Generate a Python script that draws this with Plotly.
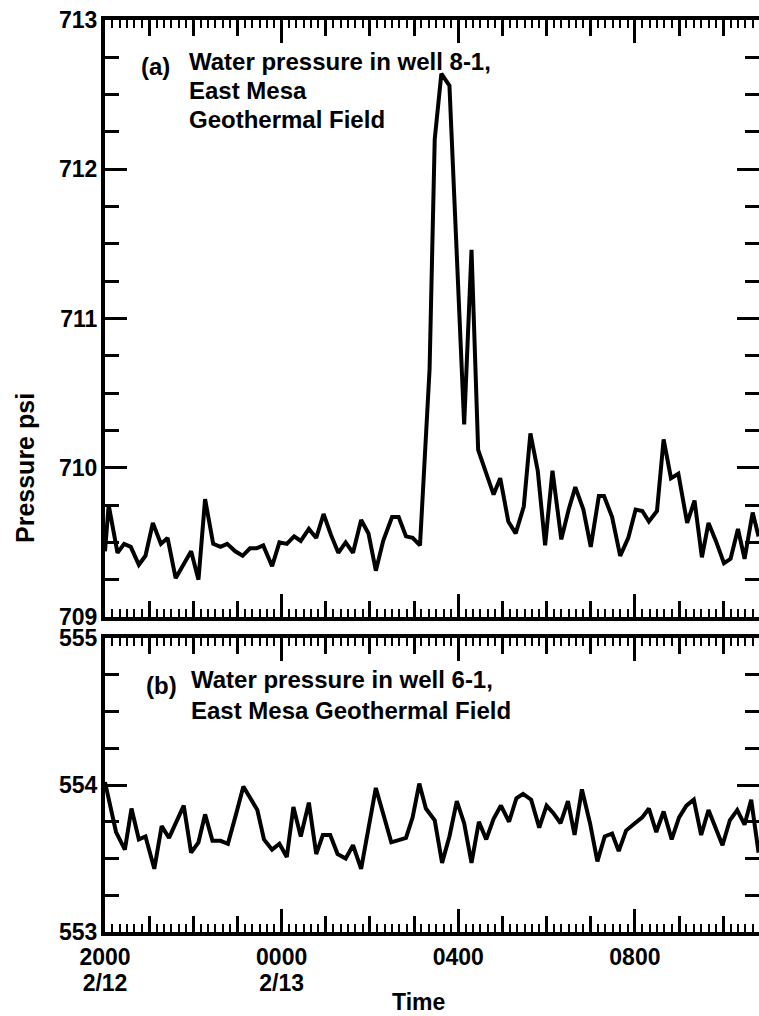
import plotly.graph_objects as go

# ---- data (minutes after 2000 on 2/12, pressure in psi) ----
t_a = [0, 5, 17, 26, 35, 46, 55, 65, 76, 85, 96, 106, 117, 127, 136, 147, 157, 166, 177, 187,
       197, 206, 215, 227, 237, 247, 257, 266, 277, 287, 297, 307, 317, 327, 337, 348, 358, 368, 378, 390,
       399, 409, 418, 428, 441, 448, 457, 468, 488, 498, 507, 528, 537, 548, 558, 569, 578, 588, 598, 608,
       620, 630, 639, 650, 660, 671, 678, 689, 700, 711, 721, 730, 739, 750, 759, 769, 779, 791, 801, 811,
       820, 830, 841, 850, 860, 869, 880, 888]
p_a = [709.44, 709.75, 709.43, 709.49, 709.47, 709.35, 709.41, 709.63, 709.49, 709.53,
       709.26, 709.34, 709.44, 709.25, 709.79, 709.49, 709.47, 709.49, 709.44, 709.41,
       709.46, 709.46, 709.48, 709.34, 709.50, 709.49, 709.54, 709.51, 709.59, 709.53,
       709.69, 709.55, 709.43, 709.50, 709.43, 709.65, 709.56, 709.31, 709.51, 709.67,
       709.67, 709.54, 709.53, 709.48, 710.66, 712.20, 712.64, 712.56, 710.29, 711.46,
       710.12, 709.82, 709.93, 709.64, 709.56, 709.74, 710.23, 709.98, 709.48, 709.98,
       709.52, 709.72, 709.87, 709.72, 709.47, 709.81, 709.81, 709.67, 709.41, 709.53,
       709.72, 709.71, 709.64, 709.71, 710.19, 709.93, 709.96, 709.63, 709.78, 709.40,
       709.63, 709.51, 709.36, 709.39, 709.59, 709.39, 709.70, 709.54]

t_b = [0, 15, 27, 36, 46, 55, 67, 77, 87, 107, 117, 127, 136, 146, 157, 167, 178, 188, 207, 216,
       227, 237, 247, 256, 266, 277, 287, 296, 306, 316, 327, 337, 348, 368, 389, 409, 418, 427, 436, 448,
       458, 468, 478, 488, 498, 508, 518, 528, 538, 549, 559, 568, 579, 590, 600, 609, 619, 629, 638, 648,
       659, 669, 679, 689, 698, 708, 720, 730, 739, 749, 759, 770, 780, 790, 800, 810, 820, 829, 839, 849,
       859, 869, 878, 888]
p_b = [554.02, 553.68, 553.56, 553.84, 553.63, 553.65, 553.43, 553.72, 553.64, 553.86,
       553.54, 553.61, 553.80, 553.62, 553.62, 553.60, 553.80, 553.99, 553.83, 553.63,
       553.56, 553.60, 553.51, 553.85, 553.65, 553.88, 553.53, 553.66, 553.66, 553.53,
       553.50, 553.59, 553.43, 553.98, 553.61, 553.64, 553.78, 554.01, 553.84, 553.76,
       553.47, 553.65, 553.89, 553.74, 553.47, 553.75, 553.63, 553.77, 553.86, 553.75,
       553.91, 553.94, 553.90, 553.71, 553.86, 553.81, 553.74, 553.89, 553.66, 553.97,
       553.74, 553.48, 553.65, 553.67, 553.55, 553.69, 553.74, 553.78, 553.84, 553.68,
       553.82, 553.63, 553.78, 553.86, 553.90, 553.66, 553.83, 553.71, 553.59, 553.76,
       553.83, 553.73, 553.90, 553.54]

time_tick_hours = [0, 4, 8, 12]
time_tick_text = ["2000", "0000", "0400", "0800"]
date_tick_hours = [0, 4]
date_tick_text = ["2/12", "2/13"]

label_a = ["Water pressure in well 8-1,", "East Mesa", "Geothermal Field"]
label_b = ["Water pressure in well 6-1,", "East Mesa Geothermal Field"]

W, H = 759, 1016
FONT = "Liberation Sans"
X_RANGE = [0, 14.81]

def px_x(p):
    return p / W

def px_y(p):
    return (H - p) / H

xdom = [px_x(105), 1.0]
ydom_a = [px_y(617), px_y(20)]
ydom_b = [px_y(932), px_y(638)]

fig = go.Figure()
fig.add_trace(go.Scatter(x=[t / 60 for t in t_a], y=p_a, mode="lines",
                         line=dict(color="black", width=4), xaxis="x", yaxis="y",
                         showlegend=False, hoverinfo="skip"))
fig.add_trace(go.Scatter(x=[t / 60 for t in t_b], y=p_b, mode="lines",
                         line=dict(color="black", width=4), xaxis="x2", yaxis="y2",
                         showlegend=False, hoverinfo="skip"))
# empty traces to bind overlay axes
for xa, ya in [("x3", "y"), ("x4", "y2"), ("x5", "y2")]:
    fig.add_trace(go.Scatter(x=[None], y=[None], xaxis=xa, yaxis=ya, mode="lines",
                             showlegend=False, hoverinfo="skip"))

tickfont = dict(family=FONT, size=23, color="black", weight="bold")

hour_axis = dict(range=X_RANGE, showline=True, linewidth=4, linecolor="black",
                 mirror="ticks", ticks="inside", tick0=0, dtick=1, ticklen=16,
                 tickwidth=2.5, tickcolor="black", showticklabels=False,
                 showgrid=False, zeroline=False, fixedrange=True, automargin=False,
                 minor=dict(ticks="inside", tick0=0, dtick=1 / 6, ticklen=8,
                            tickwidth=2, tickcolor="black", showgrid=False))

major_axis = dict(range=X_RANGE, showline=True, linewidth=4, linecolor="black",
                  mirror="ticks", ticks="inside", tickmode="array",
                  tickvals=time_tick_hours, ticklen=23, tickwidth=3, tickcolor="black",
                  showgrid=False, zeroline=False, fixedrange=True, automargin=False)

y_common = dict(showline=True, linewidth=4, linecolor="black", mirror="ticks",
                ticks="inside", dtick=1, ticklen=22, tickwidth=3, tickcolor="black",
                showgrid=False, zeroline=False, fixedrange=True, tickfont=tickfont,
                ticklabelstandoff=-1, automargin=False,
                minor=dict(ticks="inside", dtick=0.25, ticklen=14, tickwidth=2.5,
                           tickcolor="black", showgrid=False))

fig.update_layout(
    width=W, height=H, margin=dict(l=0, r=0, t=0, b=0, autoexpand=False),
    paper_bgcolor="white", plot_bgcolor="white", showlegend=False,
    xaxis=dict(domain=xdom, anchor="y", **hour_axis),
    xaxis2=dict(domain=xdom, anchor="y2", **hour_axis),
    xaxis3=dict(overlaying="x", anchor="y", showticklabels=False, **major_axis),
    xaxis4=dict(overlaying="x2", anchor="y2", ticktext=time_tick_text,
                tickfont=tickfont, ticklabelstandoff=1, **major_axis),
    xaxis5=dict(overlaying="x2", anchor="y2", range=X_RANGE, tickmode="array",
                tickvals=date_tick_hours, ticktext=date_tick_text, ticks="",
                tickfont=tickfont, ticklabelstandoff=35, showline=False,
                showgrid=False, zeroline=False, fixedrange=True, automargin=False),
    yaxis=dict(domain=ydom_a, anchor="x", range=[709, 713], tick0=709, **y_common),
    yaxis2=dict(domain=ydom_b, anchor="x2", range=[553, 555], tick0=553, **y_common),
)

ann_font = dict(family=FONT, size=24, color="black", weight="bold")
anns = [
    dict(text="(a)", x=px_x(155), y=px_y(66), xanchor="center"),
    dict(text=label_a[0], x=px_x(187), y=px_y(61), xanchor="left"),
    dict(text=label_a[1], x=px_x(187), y=px_y(91), xanchor="left"),
    dict(text=label_a[2], x=px_x(187), y=px_y(119), xanchor="left"),
    dict(text="(b)", x=px_x(161), y=px_y(685), xanchor="center"),
    dict(text=label_b[0], x=px_x(189), y=px_y(680), xanchor="left"),
    dict(text=label_b[1], x=px_x(189), y=px_y(710), xanchor="left"),
]
for a in anns:
    fig.add_annotation(xref="paper", yref="paper", yanchor="middle", showarrow=False,
                       font=ann_font, **a)
fig.add_annotation(text="Time", xref="paper", yref="paper", x=px_x(418), y=px_y(1002),
                   xanchor="center", yanchor="middle", showarrow=False, borderpad=0,
                   font=dict(family=FONT, size=23, color="black", weight="bold"))
fig.add_annotation(text="Pressure psi", xref="paper", yref="paper", x=px_x(25), y=px_y(468),
                   xanchor="center", yanchor="middle", textangle=-90, showarrow=False,
                   font=dict(family=FONT, size=25, color="black", weight="bold"))

fig.write_html("out.html", config={"displayModeBar": False},
               post_script="document.body.style.margin='0';document.body.style.overflow='hidden';")
